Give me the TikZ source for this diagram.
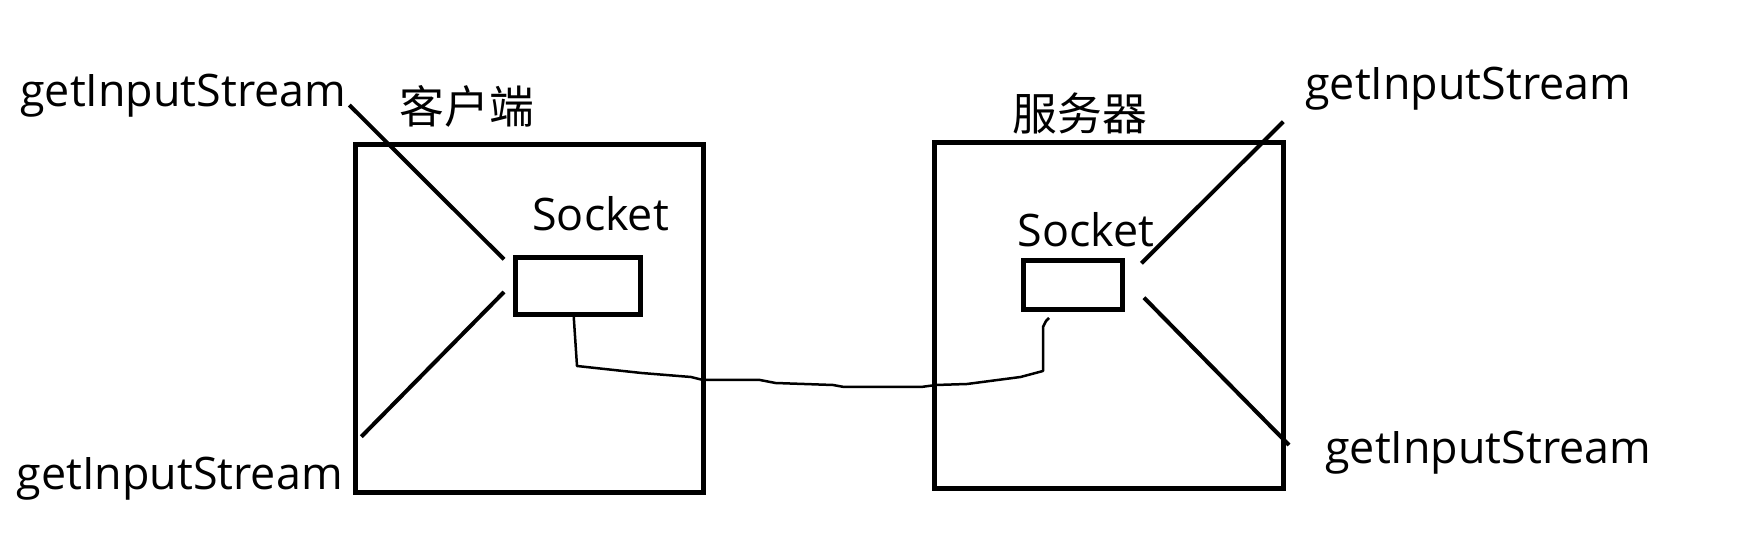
\documentclass[tikz,border=0pt]{standalone}
\usepackage{fontspec}
\setmainfont{Open Sans}
\newfontfamily\cjk{Noto Sans CJK SC}
\begin{document}
\begin{tikzpicture}[x=0.2mm, y=-0.2mm,
    every node/.style={inner sep=0, font=\fontsize{25.5}{30}\selectfont},
    host/.style={draw, line width=1mm},
    sock/.style={draw, line width=1mm},
    stream/.style={line width=0.8mm},
    wire/.style={line width=0.5mm, line join=round}]
    \useasboundingbox (0,0) rectangle (1741,541);

    % Client e server
    \node[host, minimum width=69.5mm, minimum height=69.4mm] (client) at (529.25,318.5) {};
    \node[host, minimum width=69.9mm, minimum height=69.1mm] (server) at (1108.75,315.25) {};
    \node (clientlbl) at (466.7,106.3) {\cjk 客户端};
    \node (serverlbl) at (1080,113.3) {\cjk 服务器};

    % Socket
    \node[sock, minimum width=25.1mm, minimum height=11.4mm] (csock) at (577.75,286) {};
    \node[sock, minimum width=19.9mm, minimum height=9.8mm] (ssock) at (1072.75,285.5) {};
    \node[anchor=base west] (csocklbl) at (532,230.7) {Socket};
    \node[anchor=base west] (ssocklbl) at (1017.3,246.7) {Socket};

    % Stream
    \node[anchor=base west] (inA) at (20,106.7) {getInputStream};
    \node[anchor=base west] (inB) at (16.5,490) {getInputStream};
    \node[anchor=base west] (inC) at (1305,100) {getInputStream};
    \node[anchor=base west] (inD) at (1325,463.3) {getInputStream};

    \coordinate (a1) at (349.3,105);   \coordinate (a2) at (504,259.3);
    \coordinate (b1) at (504,292);     \coordinate (b2) at (361.3,436.7);
    \coordinate (c1) at (1141.4,263.3); \coordinate (c2) at (1283.3,121.7);
    \coordinate (d1) at (1144,297.7);  \coordinate (d2) at (1289,445);
    \draw[stream] (a1) -- (a2);
    \draw[stream] (b1) -- (b2);
    \draw[stream] (c1) -- (c2);
    \draw[stream] (d1) -- (d2);

    % Cavo
    \coordinate (swire) at (1049,318);
    \draw[wire] ([xshift=-0.8mm]csock.south) -- (577,366) -- (641.6,373) -- (691,377)
        -- (703,380) -- (760,380) -- (775.5,383) -- (833,385) -- (844,387) -- (921,387)
        -- (936,385) -- (967,384) -- (1020.5,377) -- (1043,371) -- (1043,327)
        -- (1046,321) -- (swire);
\end{tikzpicture}
\end{document}
